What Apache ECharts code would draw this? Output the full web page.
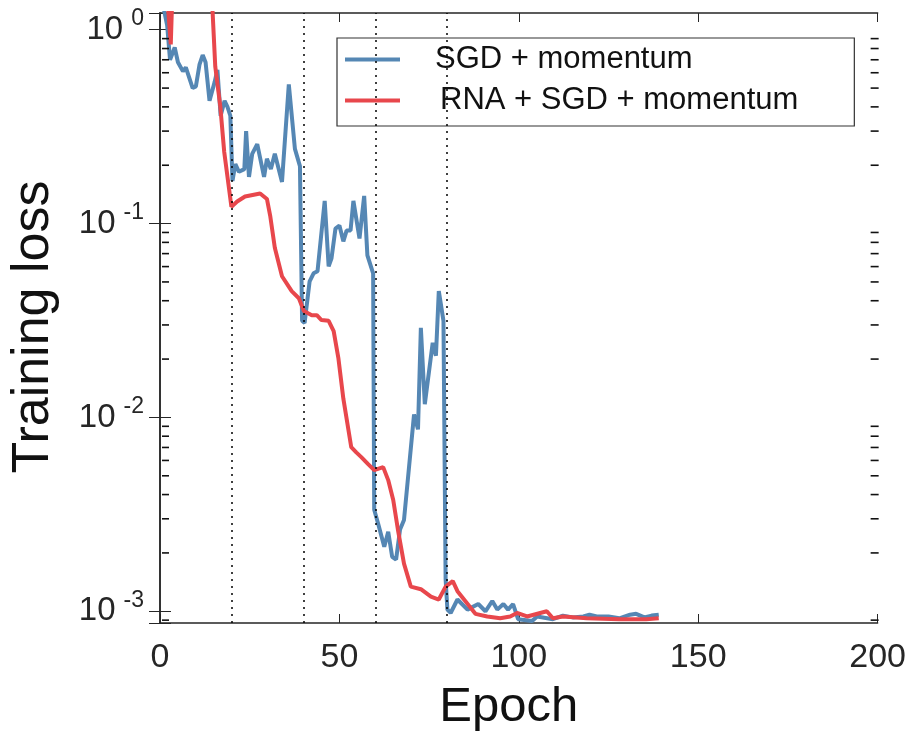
<!DOCTYPE html>
<html>
<head>
<meta charset="utf-8">
<script src="https://cdn.jsdelivr.net/npm/echarts@6/dist/echarts.min.js"></script>
<style>
html, body { margin: 0; padding: 0; background: #fff; }
#main { width: 909px; height: 737px; }
</style>
</head>
<body>
<div id="main"></div>
<script>
// training loss (epoch, loss)
const sgdEpochs = [1, 2, 2.8, 4.1, 5, 6.4, 7.2, 9.1, 10, 11, 11.9, 12.7, 13.8, 15.2, 16, 16.9, 18, 18.8, 19.6, 20.2,
  21, 22, 23.5, 24, 24.8, 25.7, 27.1, 29, 29.8, 30.9, 32, 34, 35.9, 37.6, 39, 39.6, 40.3, 41.7, 42.8, 43.9,
  45.9, 47, 47.8, 48.9, 50, 51.1, 52, 53.1, 53.9, 55.6, 56.9, 57.8, 59.4, 59.7, 60.8, 62.5, 63.6, 64.7, 65.8, 66.9,
  68, 70.8, 71.9, 72.7, 73.8, 76, 76.9, 77.7, 79, 79.6, 80.1, 81, 82.9, 85.7, 88.7, 90.7, 92.6, 94, 95.7, 97,
  98.4, 99.8, 103.7, 105.1, 109.5, 112.3, 115, 118, 119.7, 121.7, 125, 128, 131, 132.7, 135, 137, 139];
const sgdLoss = [1.3, 1.05, 0.70, 0.81, 0.68, 0.61, 0.64, 0.50, 0.51, 0.66, 0.74, 0.68, 0.43, 0.535, 0.62, 0.36, 0.43, 0.40, 0.36, 0.166,
  0.203, 0.185, 0.191, 0.30, 0.174, 0.229, 0.257, 0.174, 0.216, 0.191, 0.229, 0.164, 0.522, 0.243, 0.198, 0.0315, 0.0307, 0.0504, 0.0554, 0.0568,
  0.131, 0.0602, 0.0662, 0.0942, 0.0977, 0.081, 0.092, 0.092, 0.131, 0.0838, 0.139, 0.0686, 0.0554, 0.00334, 0.00283, 0.00215, 0.00257, 0.00191, 0.00185, 0.00264,
  0.00296, 0.01035, 0.00868, 0.029, 0.0117, 0.0243, 0.0208, 0.0448, 0.0315, 0.00146, 0.00102, 0.00098, 0.00115, 0.00102, 0.00109, 0.001, 0.00113, 0.00102, 0.00109, 0.00102,
  0.00109, 0.00091, 0.00089, 0.00094, 0.00091, 0.00095, 0.00093, 0.00094, 0.00096, 0.00094, 0.00094, 0.00092, 0.00096, 0.00097, 0.00093, 0.00095, 0.00096];

const rnaEpochs = [0.5, 1.5, 3, 3.8, 6, 10, 13.5, 14.6, 15.4, 16.8, 17.9, 19.9, 21.5, 23.7, 27.9, 29.8, 30.7, 32, 34, 36.7,
  38.7, 40.1, 42.3, 43.7, 45, 47, 48.4, 49.7, 51.1, 53.3, 54.7, 56.1, 58, 59.7, 62.2, 63.6, 65, 66.3, 68, 69.9,
  72.7, 75.5, 77.7, 78.2, 79.6, 81.6, 82.9, 87.9, 91.2, 94.8, 97.6, 99.5, 102.3, 107.8, 109.5, 112.3, 118.9, 128, 135.5, 139];
const rnaLoss = [3, 2, 0.84, 2.5, 3, 3, 2.5, 1.3, 0.646, 0.403, 0.234, 0.122, 0.13, 0.138, 0.143, 0.134, 0.110, 0.075, 0.0535, 0.0448,
  0.0412, 0.0354, 0.0337, 0.0337, 0.0318, 0.0315, 0.0279, 0.0203, 0.0125, 0.00702, 0.0066, 0.00624, 0.00574, 0.00535, 0.00554, 0.00475, 0.00375, 0.00264, 0.00176, 0.00134,
  0.0013, 0.00119, 0.00115, 0.00115, 0.00134, 0.00143, 0.00127, 0.00097, 0.00094, 0.00092, 0.00094, 0.00098, 0.00094, 0.001, 0.00092, 0.00094, 0.00092, 0.00091, 0.00091, 0.00092];

// dotted lines where the lr drops
const restartEpochs = [20, 40, 60, 80];
// minor ticks 2..9 x 10^k inside the y range
const minorTickValues = [0.0009,
  0.002, 0.003, 0.004, 0.005, 0.006, 0.007, 0.008, 0.009,
  0.02, 0.03, 0.04, 0.05, 0.06, 0.07, 0.08, 0.09,
  0.2, 0.3, 0.4, 0.5, 0.6, 0.7, 0.8, 0.9];

const xMin = 0, xMax = 200;
const yMin = 0.00087, yMax = 1.22;
const FONT = "'Liberation Sans', Arial, sans-serif";
const AXIS = '#262626';

const pair = (xs, ys) => xs.map((x, i) => [x, ys[i]]);

let chart = echarts.init(document.getElementById('main'));

const logLabel = {
  fontFamily: FONT, fontSize: 33, color: AXIS, margin: 16,
  formatter: v => {
    const p = Math.log10(v);
    if (Math.abs(p - Math.round(p)) > 0.01) return '';
    return '10{sup|' + Math.round(p) + '}';
  },
  rich: {
    sup: { fontFamily: FONT, fontSize: 23, color: AXIS, padding: [0, 0, 22, 8] }
  }
};

let option = {
  animation: false,
  backgroundColor: '#fff',
  grid: { left: 157, right: 29, top: 13, bottom: 110, containLabel: false },
  legend: {
    left: 337, top: 38,
    orient: 'vertical',
    padding: [6, 56, 10, 8],
    itemGap: 10,
    itemWidth: 55, itemHeight: 4,
    borderColor: '#333', borderWidth: 1.2,
    textStyle: { fontFamily: FONT, fontSize: 31, color: '#111' },
    data: [
      { name: 'SGD + momentum', icon: 'rect', textStyle: { padding: [0, 0, 0, 30] } },
      { name: 'RNA + SGD + momentum', icon: 'rect', textStyle: { padding: [0, 0, 0, 35] } }
    ]
  },
  xAxis: [{
    type: 'value', min: xMin, max: xMax, interval: 50,
    name: 'Epoch', nameLocation: 'middle', nameGap: 60,
    nameTextStyle: { fontFamily: FONT, fontSize: 49, color: '#111', padding: [0, 20, 0, 0] },
    axisLine: { lineStyle: { color: AXIS, width: 1.5 } },
    axisTick: { inside: true, length: 9, lineStyle: { color: AXIS } },
    axisLabel: { fontFamily: FONT, fontSize: 34, color: AXIS, margin: 18 },
    splitLine: { show: false }
  }, {
    type: 'value', min: xMin, max: xMax, interval: 50, position: 'top',
    axisLine: { lineStyle: { color: AXIS, width: 1.5 } },
    axisTick: { inside: true, length: 9, lineStyle: { color: AXIS } },
    axisLabel: { show: false },
    splitLine: { show: false }
  }],
  yAxis: [{
    type: 'log', logBase: 10, min: yMin, max: yMax,
    name: 'Training loss', nameLocation: 'middle', nameGap: 100,
    nameTextStyle: { fontFamily: FONT, fontSize: 52, color: '#111', padding: [0, 18, 0, 0] },
    axisLine: { show: true, lineStyle: { color: AXIS, width: 1.5 } },
    axisTick: { show: true, inside: true, length: 11, lineStyle: { color: AXIS } },
    axisLabel: logLabel,
    splitLine: { show: false }
  }, {
    type: 'log', logBase: 10, min: yMin, max: yMax, position: 'right',
    axisLine: { show: true, lineStyle: { color: AXIS, width: 1.5 } },
    axisTick: { show: true, inside: true, length: 11, lineStyle: { color: AXIS } },
    axisLabel: { show: false },
    splitLine: { show: false }
  }],
  series: [
    {
      name: 'SGD + momentum',
      type: 'line',
      data: pair(sgdEpochs, sgdLoss),
      symbol: 'none',
      color: '#5587b4',
      lineStyle: { width: 4, color: '#5587b4' },
      markLine: {
        silent: true, symbol: 'none', animation: false,
        label: { show: false },
        lineStyle: { type: [2, 5], color: '#000', width: 1.5 },
        data: restartEpochs.map(e => ({ xAxis: e }))
      },
      z: 3
    },
    {
      name: 'RNA + SGD + momentum',
      type: 'line',
      data: pair(rnaEpochs, rnaLoss),
      symbol: 'none',
      color: '#e8474c',
      lineStyle: { width: 4, color: '#e8474c' },
      z: 4
    },
    {
      // minor log ticks on left and right frame, nudged inside the frame lines
      type: 'custom',
      data: minorTickValues.map(v => [xMin, v]),
      silent: true,
      clip: false,
      z: 10,
      renderItem: (params, api) => {
        const v = api.value(1);
        const l = api.coord([xMin, v]);
        const r = api.coord([xMax, v]);
        const st = { stroke: '#111', lineWidth: 1.6 };
        return {
          type: 'group',
          children: [
            { type: 'line', shape: { x1: l[0] + 2, y1: l[1], x2: l[0] + 9, y2: l[1] }, style: st },
            { type: 'line', shape: { x1: r[0] - 7, y1: r[1], x2: r[0] + 1, y2: r[1] }, style: st }
          ]
        };
      }
    }
  ]
};
chart.setOption(option);
</script>
</body>
</html>
